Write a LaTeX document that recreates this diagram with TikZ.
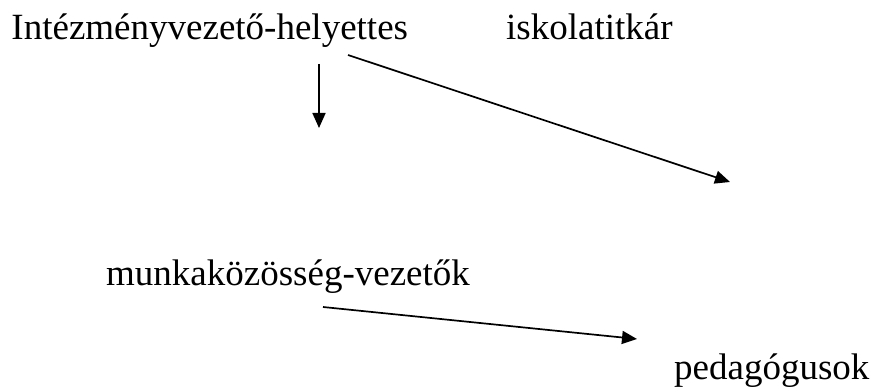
\documentclass[tikz,border=0pt]{standalone}
\usepackage{fontspec}
\setmainfont{Liberation Serif}
\usetikzlibrary{arrows.meta}
\begin{document}
\begin{tikzpicture}[x=1pt,y=-1pt,
  lbl/.style={anchor=base west,inner sep=0pt,font=\fontsize{37}{44}\selectfont},
  conn/.style={line width=1.7pt,-{Triangle[length=15pt,width=13pt]}}]
\useasboundingbox (0,0) rectangle (876,390);
\node[lbl] (ih) at (11.3,40) {Intézményvezető-helyettes};
\node[lbl] (it) at (506,40) {iskolatitkár};
\node[lbl] (mk) at (106,286) {munkaközösség-vezetők};
\node[lbl] (pg) at (674,379) {pedagógusok};
\coordinate (d1s) at (319,64);
\coordinate (d1e) at (319,128);
\coordinate (d2s) at (348,55);
\coordinate (d2e) at (730,182);
\coordinate (d3s) at (323,307);
\coordinate (d3e) at (637,339);
\draw[conn] (d1s) -- (d1e);
\draw[conn] (d2s) -- (d2e);
\draw[conn] (d3s) -- (d3e);
\end{tikzpicture}
\end{document}
